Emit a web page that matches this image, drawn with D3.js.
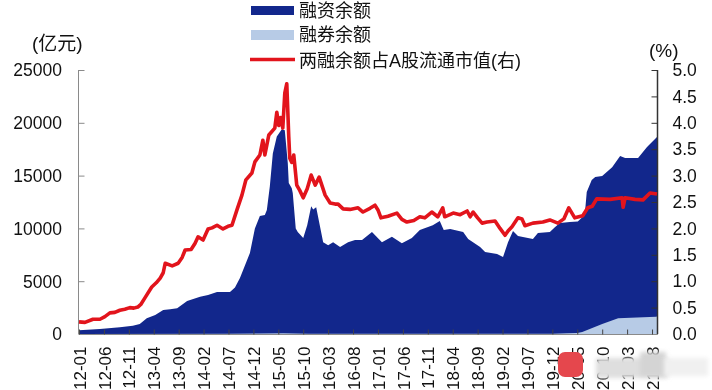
<!DOCTYPE html>
<html lang="zh">
<head>
<meta charset="UTF-8">
<title>两融余额</title>
<style>
  html, body { margin: 0; background: #fff; overflow: hidden; }
  svg { filter: blur(0.45px); }
  text { font-family: "Liberation Sans", "Noto Sans CJK SC", sans-serif; fill: #111; }
</style>
</head>
<body>
<script src="https://cdn.jsdelivr.net/npm/d3@7/dist/d3.min.js"></script>
<script>
// x values are months since 2012-01
var tickLabels = ["12-01","12-06","12-11","13-04","13-09","14-02","14-07","14-12","15-05","15-10","16-03","16-08","17-01","17-06","17-11","18-04","18-09","19-02","19-07","19-12","20-05","20-10","21-03","21-08"];

// upper edge of the filled area (亿元)
var balanceMonths = [0,4.2,8.2,10.8,12.2,13.6,15.3,16.9,18.3,19.7,21.7,24.3,25.9,27.7,30.3,31.3,32.3,34.3,35.3,36.3,37.3,37.7,38.3,38.9,39.7,40.7,41.3,41.9,42.1,42.7,42.9,43.5,43.9,45,45.8,46.6,47,47.6,48.4,49,50,51,52.4,54,55.4,56.8,58.8,60.8,62.8,64.8,66.8,68.4,71,72.4,73.2,74.5,77.1,78.1,80.5,81.5,83.9,85.1,86.1,87.1,88.1,91.1,92.1,94.5,95.5,96.5,98.5,100.1,101.5,101.9,102.9,103.6,105,107,108.6,109.6,112.2,114,115.8,116];
var balanceValues = [350,480,630,790,950,1490,1800,2270,2350,2430,3125,3530,3700,3980,3980,4400,5300,7670,10000,11170,11270,11740,14000,17100,18700,19400,19300,16200,14300,13800,13350,10000,9660,9090,10300,12100,11800,12000,10100,8700,8400,8700,8240,8700,8900,8900,9650,8700,9200,8600,9090,9850,10300,10700,9850,9950,9660,9000,8240,7770,7580,7290,8700,9750,9280,9000,9560,9660,10100,10500,10600,10650,11270,13450,14580,14870,14960,15800,16850,16670,16670,17700,18560,18650];

// 融券余额 (亿元)
var lendingMonths = [0,30,36,41,46,95,98,100,101,105,108.2,112,115.8,116];
var lendingValues = [0,20,50,80,30,30,60,100,190,950,1500,1560,1640,1650];

// 两融余额占A股流通市值 (%)
var ratioMonths = [0,1.2,2.8,4.2,5.2,6.2,7.2,8.2,9.2,10.2,11,11.8,12.4,13.2,14.6,15.5,16.3,16.9,17.3,18.7,19.9,20.7,21.3,22.5,23.3,23.9,24.9,25.9,26.7,27.7,28.9,29.9,30.7,31.7,32.7,33.5,34.7,35.3,36.3,36.9,37.3,38.1,39.3,39.7,40.1,40.5,40.9,41.3,41.7,42.1,42.3,42.7,43.1,43.7,44.3,45,45.8,46.6,47.4,48.2,49.4,50.4,51.4,52,53,54.4,56,57,58.4,59.4,60,60.6,62,63.8,64.8,65.8,67.2,68.4,69.4,70.8,72,73,73.4,75.1,76.5,77.9,78.5,79.1,80,80.9,81.9,83.5,84.5,85.5,86.1,86.9,88.1,88.9,89.5,91.1,93.1,94.5,96.1,97.3,98.3,99.5,101.1,102.1,103,103.9,106.6,109,109.2,109.6,111.6,113.2,114.6,116];
var ratioValues = [.23,.22,.28,.28,.33,.40,.41,.45,.47,.50,.49,.51,.56,.68,.89,.97,1.06,1.16,1.34,1.29,1.34,1.45,1.59,1.6,1.72,1.84,1.78,1.99,2.01,2.06,1.99,2.04,2.06,2.35,2.63,2.92,3.05,3.26,3.39,3.67,3.39,3.77,3.9,4.2,3.95,4.1,3.9,4.56,4.74,3.73,3.33,3.25,3.39,2.82,2.72,2.58,2.75,3.01,2.82,2.97,2.63,2.48,2.46,2.46,2.37,2.36,2.39,2.31,2.38,2.44,2.35,2.2,2.23,2.29,2.17,2.12,2.15,2.22,2.2,2.31,2.22,2.39,2.22,2.29,2.26,2.33,2.22,2.31,2.2,2.1,2.12,2.14,2.0,1.87,1.95,2.03,2.2,2.18,2.05,2.1,2.12,2.16,2.1,2.18,2.39,2.2,2.24,2.39,2.42,2.56,2.55,2.58,2.4,2.58,2.55,2.54,2.67,2.65];

var leftTicks = [0,5000,10000,15000,20000,25000];
var rightTicks = [0,0.5,1,1.5,2,2.5,3,3.5,4,4.5,5];

var navy = "#12278c", pale = "#b7cbe6", red = "#e2141c";

var svg = d3.select("body").append("svg").attr("width",712).attr("height",390);

var x = d3.scaleLinear().domain([0,116]).range([79,657]);
var yLeft = d3.scaleLinear().domain([0,25000]).range([334,70]);
var yRight = d3.scaleLinear().domain([0,5]).range([334,70]);

var balanceArea = d3.area().x(function(d){return x(d[0]);}).y0(yLeft(0)).y1(function(d){return yLeft(d[1]);});
svg.append("path").datum(d3.zip(balanceMonths,balanceValues)).attr("fill",navy).attr("d",balanceArea);
svg.append("path").datum(d3.zip(lendingMonths,lendingValues)).attr("fill",pale).attr("d",balanceArea);

// axes
var gl = svg.append("g").attr("transform","translate(78.5,0)")
    .call(d3.axisRight(yLeft).tickValues(leftTicks).tickSize(6).tickFormat(""));
gl.selectAll("path,line").attr("stroke","#8a8a8a");
gl.select(".domain").attr("d","M0,70V334");
leftTicks.forEach(function(t){
    svg.append("text").attr("x",62).attr("y",yLeft(t)).attr("dy","0.36em")
       .attr("text-anchor","end").attr("font-size",17.5).text(t);
});

var gr = svg.append("g").attr("transform","translate(657.5,0)")
    .call(d3.axisRight(yRight).tickValues(rightTicks).tickSize(-6).tickPadding(15).tickFormat(d3.format(".1f")));
gr.selectAll("path,line").attr("stroke","#333");
gr.select(".domain").attr("stroke-width",1.5).attr("d","M0,70V334");
gr.selectAll("text").attr("font-size",17.5).attr("font-family",null).attr("fill","#111");

var gb = svg.append("g").attr("transform","translate(0,334.5)")
    .call(d3.axisBottom(x).tickValues(d3.range(0,116,5)).tickSize(-5).tickFormat(function(d,i){return tickLabels[i];}));
gb.selectAll("line").attr("stroke","#444");
gb.select(".domain").attr("stroke","#8a8a8a").attr("d","M79,0H657");
gb.selectAll("text").attr("font-size",17).attr("font-family",null).attr("fill","#111")
    .attr("text-anchor","end").attr("transform","rotate(-90)")
    .attr("x",-12).attr("y",0).attr("dy","0.36em");

// ratio line on top
var ratioLine = d3.line().x(function(d){return x(d[0]);}).y(function(d){return yRight(d[1]);});
svg.append("path").datum(d3.zip(ratioMonths,ratioValues)).attr("fill","none")
   .attr("stroke",red).attr("stroke-width",3.6).attr("stroke-linejoin","round").attr("d",ratioLine);

// units
svg.append("text").attr("x",32).attr("y",43).attr("dy","0.36em").attr("font-size",19).text("(亿元)");
svg.append("text").attr("x",649).attr("y",50).attr("dy","0.36em").attr("font-size",19).text("(%)");

// legend
var legendNames = ["融资余额","融券余额","两融余额占A股流通市值(右)"];
var legendY = [11,35,61];
svg.append("rect").attr("x",251).attr("y",6).attr("width",43).attr("height",9).attr("fill",navy);
svg.append("rect").attr("x",251).attr("y",30).attr("width",43).attr("height",10).attr("fill",pale);
svg.append("line").attr("x1",250).attr("x2",295).attr("y1",59.5).attr("y2",59.5).attr("stroke",red).attr("stroke-width",3.5);
legendNames.forEach(function(n,i){
    svg.append("text").attr("x",299).attr("y",legendY[i]).attr("dy","0.36em").attr("font-size",18).text(n);
});

// the blurred stamp over the lower right corner of the picture
var blur = svg.append("defs").append("filter").attr("id","soft")
    .attr("x","-20%").attr("y","-30%").attr("width","140%").attr("height","160%");
blur.append("feGaussianBlur").attr("stdDeviation",2);
svg.append("rect").attr("x",596).attr("y",358).attr("width",72).attr("height",20).attr("fill","#dedede").attr("filter","url(#soft)");
svg.append("rect").attr("x",640).attr("y",352).attr("width",26).attr("height",24).attr("fill","#d4d4d4").attr("filter","url(#soft)");
svg.append("rect").attr("x",664).attr("y",358).attr("width",44).attr("height",18).attr("fill","#f0f0f0").attr("filter","url(#soft)");
svg.append("rect").attr("x",558).attr("y",352).attr("width",25).attr("height",25).attr("rx",7).attr("fill","#e5474d");
</script>
</body>
</html>
